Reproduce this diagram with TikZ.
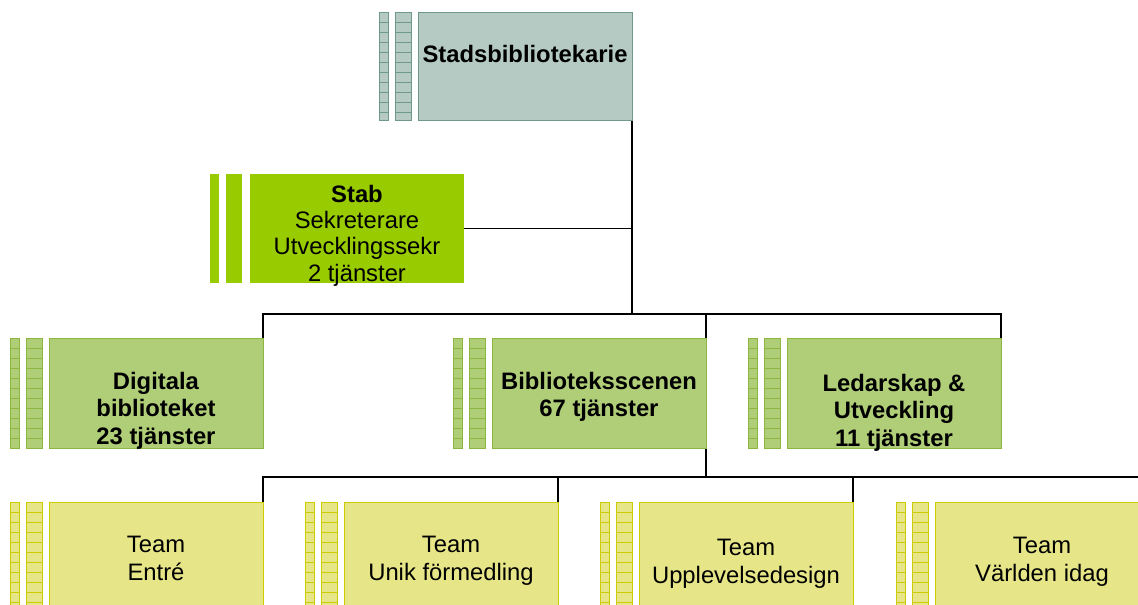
\documentclass[tikz,border=0pt]{standalone}
\usepackage{fontspec}
\setmainfont{Liberation Sans}
\usetikzlibrary{positioning}
\pgfdeclarelayer{bg}
\pgfsetlayers{bg,main}
\definecolor{chieffill}{HTML}{B4CAC2}
\definecolor{chiefline}{HTML}{6F9A8A}
\definecolor{stabfill}{HTML}{99CC00}
\definecolor{deptfill}{HTML}{B0CE78}
\definecolor{deptline}{HTML}{8DB640}
\definecolor{teamfill}{HTML}{E6E688}
\definecolor{teamline}{HTML}{CCCC00}
\tikzset{
    every node/.style={inner sep=0pt, outer sep=0pt}
}
\tikzset{
    unitbox/.style={rectangle, minimum width=214pt, minimum height=110pt, line width=0.8pt},
    rungs/.style={path picture={
        \foreach \k in {10,20,...,100}
            \draw [#1, line width=0.6pt] ([yshift=-\k pt]path picture bounding box.north west) -- ([yshift=-\k pt]path picture bounding box.north east);
    }},
    thinstrip/.style={rectangle, minimum width=9pt, minimum height=110pt, line width=0.8pt, rungs=#1},
    widestrip/.style={rectangle, minimum width=16pt, minimum height=110pt, line width=0.8pt, rungs=#1,
        append after command={[draw=#1, line width=0.6pt] (\tikzlastnode.north) -- (\tikzlastnode.south)}},
    plainstrip/.style={rectangle, minimum height=109pt, fill=stabfill},
    unitname/.style={align=center, font=\fontsize{23.8}{27.5}\selectfont},
    link/.style={line width=1.1pt, black}
}

\begin{document}
\begin{tikzpicture}[x=1pt, y=-1pt]
        \useasboundingbox (0,0) rectangle (1138,605);
        % boxes
        \node (chief) [unitbox, minimum height=108pt, fill=chieffill, draw=chiefline] at (525,66) {};
        \node (stab) [unitbox, minimum height=109pt, fill=stabfill] at (357,228.5) {};
        \node (digi) [unitbox, fill=deptfill, draw=deptline] at (156,393) {};
        \node (scen) [unitbox, fill=deptfill, draw=deptline] at (599,393) {};
        \node (led) [unitbox, fill=deptfill, draw=deptline] at (894,393) {};
        \node (entre) [unitbox, fill=teamfill, draw=teamline] at (156,557) {};
        \node (unik) [unitbox, fill=teamfill, draw=teamline] at (451,557) {};
        \node (uppl) [unitbox, fill=teamfill, draw=teamline] at (746,557) {};
        \node (varld) [unitbox, fill=teamfill, draw=teamline] at (1042,557) {};
        % strips
        \node (chiefB) [widestrip=chiefline, minimum height=108pt, fill=chieffill, draw=chiefline, left=7pt of chief] {};
        \node (chiefA) [thinstrip=chiefline, minimum height=108pt, fill=chieffill, draw=chiefline, left=7pt of chiefB] {};
        \node (stabB) [plainstrip, minimum width=16pt, left=8pt of stab] {};
        \node (stabA) [plainstrip, minimum width=9pt, left=7pt of stabB] {};
        \node (digiB) [widestrip=deptline, fill=deptfill, draw=deptline, left=7pt of digi] {};
        \node (digiA) [thinstrip=deptline, fill=deptfill, draw=deptline, left=7pt of digiB] {};
        \node (scenB) [widestrip=deptline, fill=deptfill, draw=deptline, left=7pt of scen] {};
        \node (scenA) [thinstrip=deptline, fill=deptfill, draw=deptline, left=7pt of scenB] {};
        \node (ledB) [widestrip=deptline, fill=deptfill, draw=deptline, left=7pt of led] {};
        \node (ledA) [thinstrip=deptline, fill=deptfill, draw=deptline, left=7pt of ledB] {};
        \node (entreB) [widestrip=teamline, fill=teamfill, draw=teamline, left=7pt of entre] {};
        \node (entreA) [thinstrip=teamline, fill=teamfill, draw=teamline, left=7pt of entreB] {};
        \node (unikB) [widestrip=teamline, fill=teamfill, draw=teamline, left=7pt of unik] {};
        \node (unikA) [thinstrip=teamline, fill=teamfill, draw=teamline, left=7pt of unikB] {};
        \node (upplB) [widestrip=teamline, fill=teamfill, draw=teamline, left=7pt of uppl] {};
        \node (upplA) [thinstrip=teamline, fill=teamfill, draw=teamline, left=7pt of upplB] {};
        \node (varldB) [widestrip=teamline, fill=teamfill, draw=teamline, left=7pt of varld] {};
        \node (varldA) [thinstrip=teamline, fill=teamfill, draw=teamline, left=7pt of varldB] {};
        % names
        \node (chiefname) [unitname, below=33pt of chief.north] {\textbf{Stadsbibliotekarie}};
        \node (stabname) [unitname, font=\fontsize{23.8}{26.3}\selectfont, below=11pt of stab.north] {\textbf{Stab}\\Sekreterare\\Utvecklingssekr\\2 tjänster};
        \node (diginame) [unitname, below=34pt of digi.north] {\textbf{Digitala}\\\textbf{biblioteket}\\\textbf{23 tjänster}};
        \node (scenname) [unitname, below=34pt of scen.north] {\textbf{Biblioteksscenen}\\\textbf{67 tjänster}};
        \node (ledname) [unitname, below=36pt of led.north] {\textbf{Ledarskap \&}\\\textbf{Utveckling}\\\textbf{11 tjänster}};
        \node (entrename) [unitname, font=\fontsize{23.8}{28.5}\selectfont, below=34pt of entre.north] {Team\\Entré};
        \node (unikname) [unitname, font=\fontsize{23.8}{28.5}\selectfont, below=34pt of unik.north] {Team\\Unik förmedling};
        \node (upplname) [unitname, font=\fontsize{23.8}{28.5}\selectfont, below=37pt of uppl.north] {Team\\Upplevelsedesign};
        \node (varldname) [unitname, font=\fontsize{23.8}{28.5}\selectfont, below=35pt of varld.north] {Team\\Världen idag};
        \coordinate (trunk) at (632,314);
        \coordinate (teambar) at (706,477);
        \begin{pgfonlayer}{bg}
                \draw [link] (chief.south east) -- (trunk);
                \draw [link] (stab.east) -- (stab.east -| trunk);
                \draw [link] (digi.north east) |- (trunk) -| (led.north east);
                \draw [link] (scen.north east) -- (scen.north east |- trunk);
                \draw [link] (scen.south east) -- (teambar);
                \draw [link] (entre.north east) |- (teambar) -| (varld.north east);
                \draw [link] (unik.north east) -- (unik.north east |- teambar);
                \draw [link] (uppl.north east) -- (uppl.north east |- teambar);
        \end{pgfonlayer}
\end{tikzpicture}
\end{document}
